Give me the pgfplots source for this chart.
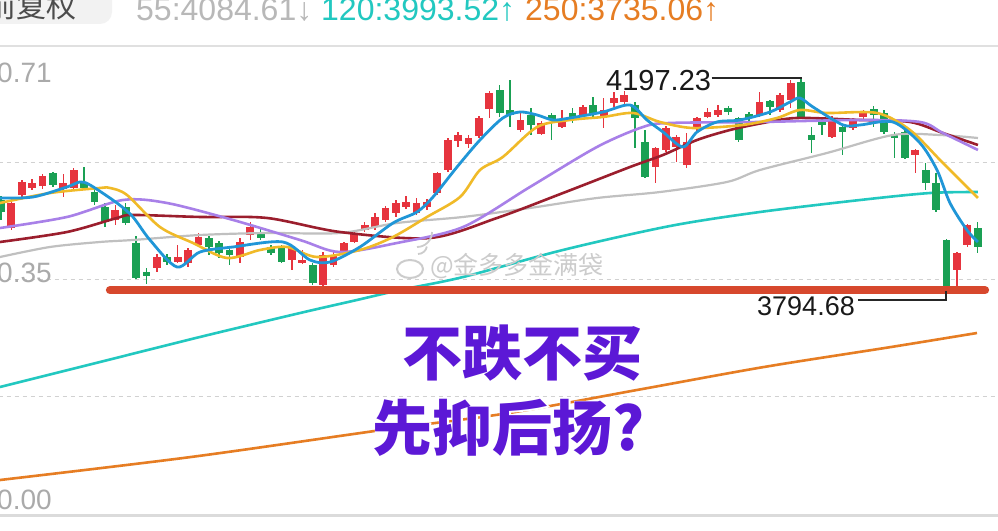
\documentclass[border=0pt]{standalone}
\usepackage{pgfplots}
\pgfplotsset{compat=1.18}
\usepackage{pgfplotstable}
\usepackage{fontspec}
\setmainfont{Liberation Sans}
\newfontfamily\cjk{Noto Sans CJK SC}
\newfontfamily\cjkhalo{Noto Sans CJK SC}[FakeBold=4]

\definecolor{cUp}{RGB}{230,52,62}
\definecolor{cDown}{RGB}{26,160,84}
\definecolor{ma5}{RGB}{32,150,215}
\definecolor{ma10}{RGB}{240,186,40}
\definecolor{ma20}{RGB}{168,128,232}
\definecolor{ma30}{RGB}{155,30,45}
\definecolor{ma55}{RGB}{192,192,192}
\definecolor{ma120}{RGB}{34,200,192}
\definecolor{ma250}{RGB}{230,125,35}
\definecolor{support}{RGB}{215,72,45}
\definecolor{labgray}{RGB}{170,170,170}
\definecolor{slogan}{RGB}{92,24,214}

% candles: i = bar index, o/c/h/l = open/close/high/low
\pgfplotstableread{
i o c h l
1 3914.3 3961.9 3971.4 3910.5
2 3977.1 4001.9 4005.7 3973.3
3 3990.5 4000.0 4007.6 3986.6
4 3994.3 4013.3 4017.1 3988.6
6 3988.6 4000.0 4017.1 3973.3
7 3990.5 4024.7 4028.5 3986.6
11 3929.6 3948.6 3958.1 3920.0
15 3838.2 3859.1 3864.8 3830.6
17 3849.6 3859.1 3882.0 3847.7
18 3847.7 3872.5 3876.3 3840.1
19 3882.0 3897.2 3904.8 3878.2
23 3859.1 3887.7 3895.3 3847.7
24 3901.0 3916.2 3925.7 3891.5
28 3853.4 3876.3 3880.1 3834.4
29 3847.7 3853.4 3872.5 3845.8
31 3805.8 3862.9 3868.6 3798.2
32 3843.9 3862.9 3872.5 3840.1
33 3868.6 3885.8 3887.7 3862.9
34 3887.7 3904.8 3908.6 3885.8
35 3910.5 3920.0 3925.7 3906.7
36 3916.2 3935.3 3942.9 3910.5
37 3929.6 3952.4 3956.2 3925.7
38 3942.9 3961.9 3967.6 3935.3
39 3954.3 3963.8 3975.2 3950.5
40 3942.9 3961.9 3971.4 3939.1
41 3954.3 3963.8 3969.5 3948.6
42 3980.9 4019.0 4020.9 3977.1
43 4024.7 4081.8 4085.6 4020.9
44 4079.9 4091.3 4097.0 4068.5
45 4074.2 4085.6 4091.3 4066.6
46 4089.4 4123.7 4127.5 4085.6
47 4140.8 4171.3 4175.1 4123.7
50 4100.8 4119.9 4133.2 4097.0
52 4093.2 4114.2 4118.0 4091.3
54 4106.6 4119.9 4138.9 4104.6
56 4129.4 4144.6 4148.4 4125.6
58 4125.6 4138.9 4161.7 4104.6
59 4152.2 4161.7 4173.2 4144.6
60 4154.1 4167.5 4175.1 4146.5
63 4030.4 4066.6 4068.5 4000.0
64 4062.8 4104.6 4108.5 4059.0
65 4068.5 4087.5 4091.3 4039.9
66 4034.2 4078.0 4095.1 4028.5
67 4104.6 4123.7 4125.6 4097.0
68 4125.6 4135.1 4142.7 4123.7
69 4129.4 4138.9 4148.4 4125.6
73 4129.4 4154.1 4173.2 4125.6
75 4138.9 4167.5 4171.3 4135.1
76 4157.9 4190.3 4196.0 4142.7
80 4087.5 4123.7 4127.5 4085.6
82 4104.6 4119.9 4123.7 4100.8
83 4125.6 4135.1 4138.9 4121.8
88 4053.3 4062.8 4064.7 4019.0
92 3834.4 3866.7 3868.6 3802.0
93 3882.0 3920.0 3921.9 3878.2
}\upbars

\pgfplotstableread{
i o c h l
0 3967.6 3944.8 3975.2 3929.6
5 4019.0 3996.2 4020.9 3992.4
8 4001.9 3990.5 4030.4 3986.6
9 3982.8 3963.8 3988.6 3958.1
10 3954.3 3925.7 3961.9 3916.2
12 3954.3 3923.8 3961.9 3920.0
13 3885.8 3819.2 3899.1 3817.3
14 3830.6 3823.0 3838.2 3807.7
16 3859.1 3849.6 3864.8 3843.9
20 3895.3 3878.2 3899.1 3862.9
21 3885.8 3866.7 3889.6 3857.2
22 3872.5 3862.9 3878.2 3843.9
25 3906.7 3895.3 3912.4 3891.5
26 3878.2 3866.7 3882.0 3862.9
27 3878.2 3849.6 3882.0 3847.7
30 3843.9 3809.6 3847.7 3805.8
48 4177.0 4133.2 4186.5 4125.6
49 4138.9 4129.4 4196.0 4106.6
51 4129.4 4110.4 4142.7 4091.3
53 4129.4 4121.8 4133.2 4081.8
55 4133.2 4121.8 4142.7 4114.2
57 4148.4 4133.2 4163.6 4125.6
61 4148.4 4123.7 4154.1 4066.6
62 4078.0 4011.4 4100.8 4009.5
70 4142.7 4135.1 4146.5 4129.4
71 4123.7 4081.8 4125.6 4078.0
72 4131.3 4123.7 4135.1 4114.2
74 4156.0 4144.6 4157.9 4129.4
77 4192.2 4125.6 4197.23 4123.7
78 4091.3 4081.8 4106.6 4057.1
79 4116.1 4110.4 4123.7 4091.3
81 4106.6 4097.0 4110.4 4053.3
84 4140.8 4129.4 4146.5 4106.6
85 4133.2 4097.0 4138.9 4093.2
86 4091.3 4085.6 4097.0 4047.6
87 4097.0 4047.6 4100.8 4045.7
89 4024.7 4000.0 4038.0 3986.6
90 4000.0 3948.6 4019.0 3944.8
91 3891.5 3802.0 3893.4 3794.68
94 3914.3 3878.2 3925.7 3866.7
}\downbars

\pgfplotsset{
  wick/.style={draw=none, mark=none, forget plot,
    error bars/.cd, y dir=both, y explicit, error mark=none,
    error bar style={draw=#1, line width=1.5pt}},
  body/.style={draw=none, mark=none, forget plot,
    error bars/.cd, y dir=both, y explicit, error mark=none,
    error bar style={draw=#1, line width=7.8pt}},
  ma/.style={smooth, mark=none, line width=2.6pt, draw=#1},
}

\begin{document}
\begin{tikzpicture}
\useasboundingbox (0,0) rectangle (998pt,530pt);
\clip (0,0) rectangle (998pt,530pt);
\fill[white] (0,0) rectangle (998pt,530pt);
\begin{axis}[
  at={(0,0)}, anchor=south west,
  scale only axis, width=998pt, height=530pt,
  xmin=-0.096, xmax=95.96,
  ymin=3339.55, ymax=4348.26,
  hide axis,
]
% grid
\draw[black!12, line width=2pt] (axis cs:-1,4260.71) -- (axis cs:97,4260.71);
\draw[black!18, line width=1pt, dash pattern=on 4pt off 4pt] (axis cs:-1,4038.03) -- (axis cs:97,4038.03);
\draw[black!18, line width=1pt, dash pattern=on 4pt off 4pt] (axis cs:-1,3815.36) -- (axis cs:97,3815.36);
\draw[black!18, line width=1pt, dash pattern=on 4pt off 4pt] (axis cs:-1,3592.68) -- (axis cs:97,3592.68);
\draw[black!14, line width=3pt] (axis cs:-1,3366.2) -- (axis cs:97,3366.2);

% long averages
\addplot[ma=ma120] coordinates {(-0.1,3611.7) (9.53,3659.3) (19.15,3706.9) (28.78,3752.5) (34.26,3777.3) (38.4,3796.3) (44.47,3821.0) (54.09,3872.5) (64.39,3918.1) (73.05,3944.8) (82.68,3967.6) (89.41,3980.9) (94.03,3982.8)};
\addplot[ma=ma250] coordinates {(-0.1,3434.7) (18.29,3478.5) (36.67,3529.9) (48.89,3562.2) (61.21,3606.0) (73.44,3649.8) (85.66,3687.8) (93.94,3714.5)};

% candles
\addplot[wick=cUp] table[x=i, y expr={(\thisrow{h}+\thisrow{l})/2}, y error expr={(\thisrow{h}-\thisrow{l})/2}] {\upbars};
\addplot[body=cUp] table[x=i, y expr={(\thisrow{o}+\thisrow{c})/2}, y error expr={max(abs(\thisrow{c}-\thisrow{o})/2,1.2)}] {\upbars};
\addplot[wick=cDown] table[x=i, y expr={(\thisrow{h}+\thisrow{l})/2}, y error expr={(\thisrow{h}-\thisrow{l})/2}] {\downbars};
\addplot[body=cDown] table[x=i, y expr={(\thisrow{o}+\thisrow{c})/2}, y error expr={max(abs(\thisrow{c}-\thisrow{o})/2,1.2)}] {\downbars};

% moving averages
\addplot[ma=ma55, line width=2.2pt] coordinates {(-0.1,3859.1) (4.72,3878.2) (9.53,3887.7) (12.7,3891.5) (19.15,3901.0) (25.6,3904.8) (32.63,3904.8) (38.11,3923.8) (44.47,3935.3) (50.91,3952.4) (57.36,3971.4) (63.43,3982.8) (69.87,4001.9) (73.05,4024.7) (79.5,4057.1) (85.85,4091.3) (90.38,4091.3) (94.03,4085.6)};
\addplot[ma=ma30] coordinates {(-0.1,3887.7) (6.35,3906.7) (11.16,3933.4) (12.7,3939.1) (19.15,3935.3) (25.6,3933.4) (32.63,3906.7) (41.29,3895.3) (47.74,3933.4) (54.09,3980.9) (60.54,4030.4) (63.72,4053.3) (66.99,4081.8) (70.16,4100.8) (73.34,4114.2) (76.61,4123.7) (82.68,4119.9) (87.49,4116.1) (90.66,4095.1) (94.03,4072.3)};
\addplot[ma=ma20] coordinates {(-0.1,3914.3) (6.35,3935.3) (11.74,3967.6) (15.98,3961.9) (22.33,3929.6) (28.78,3891.5) (32.63,3868.6) (38.11,3885.8) (44.47,3916.2) (50.91,3992.4) (57.36,4068.5) (61.79,4106.6) (64.39,4114.2) (73.05,4116.1) (82.68,4119.9) (88.45,4116.1) (90.66,4095.1) (94.03,4062.8)};
\addplot[ma=ma10] coordinates {(-0.1,3961.9) (4.72,3980.9) (9.53,3990.5) (10.49,3990.5) (12.13,3977.1) (15.3,3916.2) (18.48,3885.8) (21.75,3857.2) (24.93,3872.5) (27.53,3878.2) (30.41,3859.1) (34.55,3872.5) (37.73,3897.2) (41.0,3935.3) (44.18,3973.3) (46.1,4024.7) (48.3,4049.5) (51.6,4106.6) (54.76,4119.9) (57.94,4125.6) (60.83,4133.2) (63.43,4116.1) (66.6,4104.6) (71.41,4110.4) (74.69,4123.7) (76.9,4138.9) (79.5,4133.2) (84.31,4133.2) (87.49,4100.8) (90.66,4038.0) (94.03,3971.4)};
\addplot[ma=ma5, line width=2.8pt] coordinates {(-0.1,3971.4) (3.08,3973.3) (6.35,3992.4) (7.6,4001.9) (8.57,3996.2) (11.16,3961.9) (12.7,3935.3) (14.34,3891.5) (16.94,3840.1) (19.15,3868.6) (22.33,3878.2) (27.14,3887.7) (29.74,3853.4) (31.67,3849.6) (34.55,3878.2) (37.73,3923.8) (40.04,3944.8) (41.58,3973.3) (43.89,4030.4) (46.1,4081.8) (48.3,4123.7) (49.95,4135.1) (51.6,4129.4) (53.13,4119.9) (54.76,4123.7) (57.94,4135.1) (60.54,4148.4) (62.17,4119.9) (63.72,4097.0) (65.64,4068.5) (66.99,4097.0) (68.91,4116.1) (71.13,4119.9) (74.01,4135.1) (75.94,4154.1) (76.9,4161.7) (78.15,4144.6) (81.04,4110.4) (82.68,4110.4) (85.85,4116.1) (88.45,4076.1) (90.09,4024.7) (91.34,3961.9) (92.97,3910.5) (94.03,3887.7)};

% support line
\addplot[support, line width=8.5pt, line cap=round, mark=none] coordinates {(10.5,3796) (94.7,3796)};

% high / low markers
\draw[black!85, line width=1.5pt] (axis cs:68.4,4199.8) -- (axis cs:77,4199.8) -- (axis cs:77,4197.23);
\draw[black!85, line width=1.5pt] (axis cs:82.5,3777.3) -- (axis cs:90.95,3777.3) -- (axis cs:90.95,3794.68);
\end{axis}

\begin{scope}[shift={(0pt,530pt)}, x=1pt, y=-1pt]
% header
\fill[black!5, rounded corners=12pt] (-30,-20) rectangle (112,24);
\node[anchor=base east, text=black!70, font=\cjk\fontsize{30}{30}\selectfont] at (80,18) {前复权};
\node[anchor=base west, text=black!28, font=\fontsize{32}{32}\selectfont, inner sep=0] at (136,21) {55:4084.61↓};
\node[anchor=base west, text=ma120, font=\fontsize{32}{32}\selectfont, inner sep=0] at (321,21) {120:3993.52↑};
\node[anchor=base west, text=ma250, font=\fontsize{32}{32}\selectfont, inner sep=0] at (525,21) {250:3735.06↑};
% price labels
\node[anchor=base west, text=labgray, font=\fontsize{28}{28}\selectfont, inner sep=0] at (-3,83) {0.71};
\node[anchor=base west, text=labgray, font=\fontsize{28}{28}\selectfont, inner sep=0] at (-3,283) {0.35};
\node[anchor=base west, text=labgray, font=\fontsize{28}{28}\selectfont, inner sep=0] at (-3,509) {0.00};
% extremes
\node[anchor=base west, text=black!90, font=\fontsize{29}{29}\selectfont, inner sep=0] at (606,91) {4197.23};
\node[anchor=base east, text=black!90, font=\fontsize{27}{27}\selectfont, inner sep=0] at (855,316) {3794.68};
% watermark
\draw[black!20, line width=2pt] (410,269) ellipse (13 and 9);
\draw[black!20, line width=1.8pt] (418,254) arc (90:10:9);
\draw[black!20, line width=1.8pt] (417,247) arc (90:0:15);
\node[anchor=west, text=black!20, font=\cjk\fontsize{25}{25}\selectfont, inner sep=0] at (430,266) {@金多多金满袋};
% slogan with a white halo
\node[text=white, font=\cjkhalo\bfseries\fontsize{60}{60}\selectfont] at (522,353) {不跌不买};
\node[text=white, font=\cjkhalo\bfseries\fontsize{60}{60}\selectfont] at (509,428) {先抑后扬?};
\node[text=slogan, font=\cjk\bfseries\fontsize{60}{60}\selectfont] at (522,353) {不跌不买};
\node[text=slogan, font=\cjk\bfseries\fontsize{60}{60}\selectfont] at (509,428) {先抑后扬?};
\end{scope}
\end{tikzpicture}
\end{document}
